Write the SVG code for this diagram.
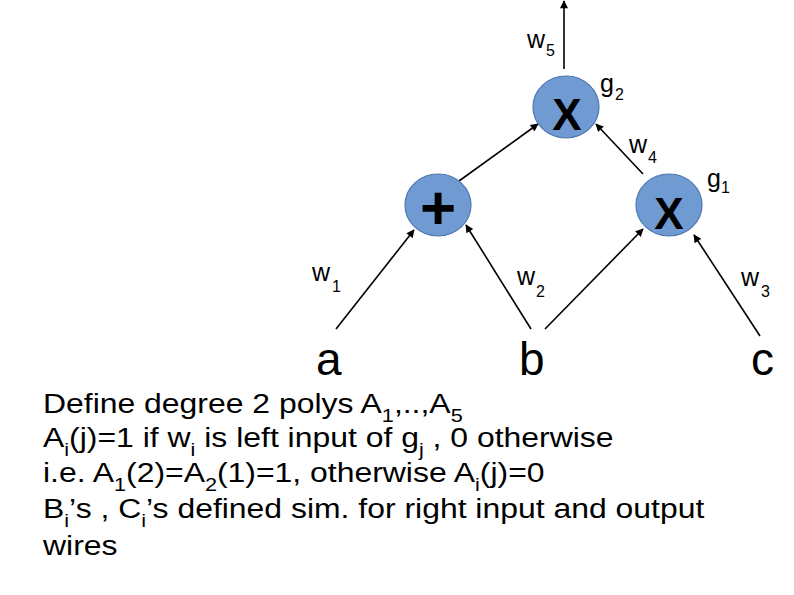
<svg xmlns="http://www.w3.org/2000/svg" width="794" height="595" viewBox="0 0 794 595">
<style>
.node{fill:#6F9AD2;stroke:#4D77B0;stroke-width:1.2}
.op{font-family:"Liberation Sans",Arial,sans-serif;font-size:44px;font-weight:bold;fill:#000;text-anchor:middle}
.lbl{font-family:"Liberation Sans",Arial,sans-serif;font-size:25px;fill:#000}
.sub{font-size:16px}
.big{font-family:"Liberation Sans",Arial,sans-serif;font-size:46px;fill:#000}
.body{font-family:"Liberation Sans",Arial,sans-serif;font-size:28px;fill:#000}
.bsub{font-size:19px}
.wire{stroke:#000;stroke-width:1.6;fill:none;marker-end:url(#ah)}
</style>
<defs>
<marker id="ah" viewBox="0 0 10 10" refX="9" refY="5" markerWidth="6" markerHeight="5" orient="auto" markerUnits="strokeWidth">
<path d="M0,0 L10,5 L0,10 z" fill="#000"/>
</marker>
</defs>
<rect width="794" height="595" fill="#fff"/>
<g id="connectors">
<line class="wire" x1="564" y1="69" x2="564" y2="1"/>
<line class="wire" x1="459" y1="181" x2="538" y2="124"/>
<line class="wire" x1="643" y1="174" x2="596" y2="124"/>
<line class="wire" x1="336" y1="329" x2="414" y2="230"/>
<line class="wire" x1="531" y1="329" x2="466" y2="225"/>
<line class="wire" x1="545" y1="329" x2="643" y2="229"/>
<line class="wire" x1="760" y1="336" x2="694" y2="235"/>
</g>
<g id="g2">
<ellipse class="node" cx="566" cy="107" rx="33" ry="31"/>
<text class="op" x="567" y="130">X</text>
<text class="lbl" x="600" y="92">g<tspan class="sub" x="615" y="100">2</tspan></text>
</g>
<g id="plus">
<ellipse class="node" cx="438" cy="205" rx="33" ry="31"/>
<text class="op" x="438" y="229" style="font-size:62px">+</text>
</g>
<g id="g1">
<ellipse class="node" cx="669" cy="205" rx="33" ry="31"/>
<text class="op" x="669" y="229">X</text>
<text class="lbl" x="707" y="187">g<tspan class="sub" x="721" y="193">1</tspan></text>
</g>
<g id="wire-labels">
<text class="lbl" x="527" y="48">w<tspan class="sub" x="546" y="56">5</tspan></text>
<text class="lbl" x="629" y="153">w<tspan class="sub" x="648" y="163">4</tspan></text>
<text class="lbl" x="312" y="281">w<tspan class="sub" x="332" y="292">1</tspan></text>
<text class="lbl" x="517" y="285">w<tspan class="sub" x="536" y="297">2</tspan></text>
<text class="lbl" x="741" y="286">w<tspan class="sub" x="761" y="297">3</tspan></text>
</g>
<g id="a"><text class="big" x="316" y="375">a</text></g>
<g id="b"><text class="big" x="519" y="375">b</text></g>
<g id="c"><text class="big" x="751" y="375">c</text></g>
<g id="description" transform="translate(43,0) scale(1.14,1)">
<text class="body" x="0" y="413">Define degree 2 polys A<tspan class="bsub" dy="9">1</tspan><tspan dy="-9">,..,A</tspan><tspan class="bsub" dy="9">5</tspan></text>
<text class="body" x="0" y="447">A<tspan class="bsub" dy="9">i</tspan><tspan dy="-9">(j)=1 if w</tspan><tspan class="bsub" dy="9">i</tspan><tspan dy="-9"> is left input of g</tspan><tspan class="bsub" dy="9">j</tspan><tspan dy="-9"> , 0 otherwise</tspan></text>
<text class="body" x="0" y="482">i.e. A<tspan class="bsub" dy="9">1</tspan><tspan dy="-9">(2)=A</tspan><tspan class="bsub" dy="9">2</tspan><tspan dy="-9">(1)=1, otherwise A</tspan><tspan class="bsub" dy="9">i</tspan><tspan dy="-9">(j)=0</tspan></text>
<text class="body" x="0" y="518">B<tspan class="bsub" dy="9">i</tspan><tspan dy="-9">’s , C</tspan><tspan class="bsub" dy="9">i</tspan><tspan dy="-9">’s defined sim. for right input and output</tspan></text>
<text class="body" x="0" y="555">wires</text>
</g>
</svg>
